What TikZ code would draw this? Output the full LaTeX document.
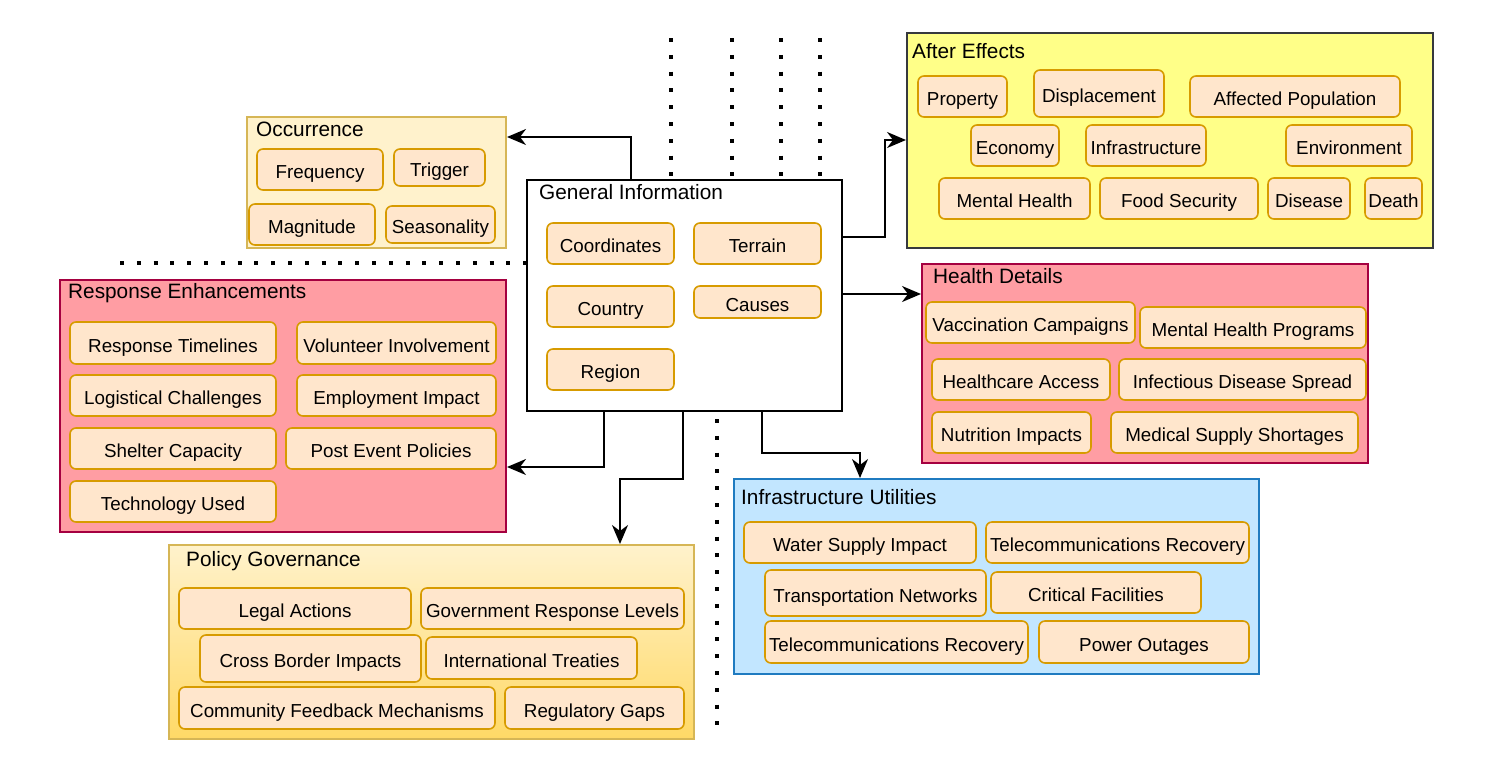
\documentclass[tikz,border=0pt]{standalone}
\usepackage{fontspec}
\setmainfont{Liberation Sans}
\usetikzlibrary{arrows.meta,calc}
\definecolor{itemf}{HTML}{FFE6CC}
\definecolor{itemb}{HTML}{D79B00}
\definecolor{occf}{HTML}{FFF2CC}
\definecolor{occb}{HTML}{D6B656}
\definecolor{pinkf}{HTML}{FF9DA3}
\definecolor{pinkb}{HTML}{A50040}
\definecolor{yelf}{HTML}{FFFF88}
\definecolor{yelb}{HTML}{36393D}
\definecolor{bluef}{HTML}{C2E6FF}
\definecolor{blueb}{HTML}{1F7BC0}
\definecolor{goldb}{HTML}{FFD966}
\newcommand\fs{\fontsize{18.8}{22}\selectfont}
\newcommand\tfs{\fontsize{20.8}{24}\selectfont}
\newcommand\mkbox[7]{\node[#1, minimum width={#5-#3}, minimum height={#6-#4}] (#2) at ({(#3+#5)/2},{(#4+#6)/2}) {#7};}
\tikzset{
  item/.style={draw=itemb, fill=itemf, line width=1.6pt, rounded corners=6pt, inner sep=0pt, font=\fs, text height=18.4pt, text depth=0pt},
  cont/.style={line width=2pt, inner sep=0pt},
  occbox/.style={cont, draw=occb, fill=occf},
  pinkbox/.style={cont, draw=pinkb, fill=pinkf},
  yelbox/.style={cont, draw=yelb, fill=yelf},
  bluebox/.style={cont, draw=blueb, fill=bluef},
  goldbox/.style={cont, draw=occb, top color=occf, bottom color=goldb},
  whitebox/.style={cont, draw=black, fill=white},
  ttl/.style={anchor=west, inner sep=0pt, font=\tfs},
  arr/.style={line width=2pt, -{Stealth[length=19pt,width=16pt,inset=6pt]}},
  dots/.style={line width=4pt, dash pattern=on 4pt off 12.8pt}
}
\begin{document}
\begin{tikzpicture}[x=1pt,y=-1pt]
\useasboundingbox (0,0) rectangle (1488,764);
% dotted lines
\draw[dots] (671,38) -- (671,180);
\draw[dots] (732,38) -- (732,180);
\draw[dots] (781,38) -- (781,180);
\draw[dots] (820,38) -- (820,180);
\draw[dots] (120,263) -- (527,263);
\draw[dots] (717,419) -- (717,728);

% Occurrence
\mkbox{occbox}{occ}{247}{117}{506}{248}{}
\node[ttl] (occt) at (256,129) {Occurrence};
\mkbox{item}{freq}{257}{149}{383}{190}{Frequency}
\mkbox{item}{trig}{394}{149}{485}{186}{Trigger}
\mkbox{item}{magn}{249}{204}{375}{245}{Magnitude}
\mkbox{item}{seas}{386}{206}{495}{243}{Seasonality}

% General Information
\mkbox{whitebox}{gi}{527}{180}{842}{411}{}
\node[ttl] (git) at (539,192) {General Information};
\mkbox{item}{coord}{547}{223}{674}{264}{Coordinates}
\mkbox{item}{terr}{694}{223}{821}{264}{Terrain}
\mkbox{item}{ctry}{547}{286}{674}{327}{Country}
\mkbox{item}{caus}{694}{286}{821}{318}{Causes}
\mkbox{item}{regi}{547}{349}{674}{390}{Region}

% After Effects
\mkbox{yelbox}{ae}{907}{33}{1433}{248}{}
\node[ttl] (aet) at (912,51) {After Effects};
\mkbox{item}{prop}{918}{76}{1007}{117}{Property}
\mkbox{item}{disp}{1034}{70}{1164}{117}{Displacement}
\mkbox{item}{affp}{1190}{76}{1400}{117}{Affected Population}
\mkbox{item}{econ}{971}{125}{1059}{166}{Economy}
\mkbox{item}{infr}{1086}{125}{1206}{166}{Infrastructure}
\mkbox{item}{envi}{1286}{125}{1412}{166}{Environment}
\mkbox{item}{menh}{939}{178}{1090}{219}{Mental Health}
\mkbox{item}{food}{1100}{178}{1258}{219}{Food Security}
\mkbox{item}{dise}{1268}{178}{1350}{219}{Disease}
\mkbox{item}{deat}{1365}{178}{1422}{219}{Death}

% Health Details
\mkbox{pinkbox}{hd}{922}{264}{1368}{463}{}
\node[ttl] (hdt) at (933,276) {Health Details};
\mkbox{item}{vacc}{926}{302}{1135}{343}{Vaccination Campaigns}
\mkbox{item}{mhp}{1140}{307}{1366}{348}{Mental Health Programs}
\mkbox{item}{hca}{932}{359}{1110}{400}{Healthcare Access}
\mkbox{item}{ids}{1119}{359}{1366}{400}{Infectious Disease Spread}
\mkbox{item}{nut}{932}{412}{1091}{453}{Nutrition Impacts}
\mkbox{item}{mss}{1111}{412}{1358}{453}{Medical Supply Shortages}

% Response Enhancements
\mkbox{pinkbox}{re}{60}{280}{506}{532}{}
\node[ttl] (ret) at (68,293) {Response Enhancements};
\mkbox{item}{rtl}{70}{322}{276}{364}{Response Timelines}
\mkbox{item}{vol}{297}{322}{496}{364}{Volunteer Involvement}
\mkbox{item}{log}{70}{375}{276}{416}{Logistical Challenges}
\mkbox{item}{emp}{297}{375}{496}{416}{Employment Impact}
\mkbox{item}{shel}{70}{428}{276}{469}{Shelter Capacity}
\mkbox{item}{pep}{286}{428}{496}{469}{Post Event Policies}
\mkbox{item}{tech}{70}{481}{276}{522}{Technology Used}

% Policy Governance
\mkbox{goldbox}{pg}{169}{545}{694}{739}{}
\node[ttl] (pgt) at (186,561) {Policy Governance};
\mkbox{item}{legal}{179}{588}{411}{629}{Legal Actions}
\mkbox{item}{grl}{421}{588}{684}{629}{Government Response Levels}
\mkbox{item}{cbi}{200}{635}{421}{682}{Cross Border Impacts}
\mkbox{item}{intt}{426}{637}{637}{679}{International Treaties}
\mkbox{item}{cfm}{179}{687}{495}{729}{Community Feedback Mechanisms}
\mkbox{item}{regg}{505}{687}{684}{729}{Regulatory Gaps}

% Infrastructure Utilities
\mkbox{bluebox}{iu}{734}{479}{1259}{674}{}
\node[ttl] (iut) at (741,497) {Infrastructure Utilities};
\mkbox{item}{wsi}{744}{522}{976}{563}{Water Supply Impact}
\mkbox{item}{tr1}{986}{522}{1249}{563}{Telecommunications Recovery}
\mkbox{item}{trn}{765}{570}{986}{616}{Transportation Networks}
\mkbox{item}{crit}{991}{572}{1201}{613}{Critical Facilities}
\mkbox{item}{tr2}{765}{621}{1028}{663}{Telecommunications Recovery}
\mkbox{item}{pow}{1039}{621}{1249}{663}{Power Outages}

% connectors
\draw[arr] ([xshift=105pt]gi.north west) |- ([yshift=-21pt]occ.north east);
\draw[arr] ([yshift=-58pt]gi.north east) -- ++(42,0) |- ([yshift=-108pt]ae.north west);
\draw[arr] ([yshift=-115pt]gi.north east) -- ([yshift=-31pt]hd.north west);
\draw[arr] ([xshift=78pt]gi.south west) |- ([yshift=-188pt]re.north east);
\draw[arr] ([xshift=157pt]gi.south west) -- ++(0,67) -| ([xshift=452pt]pg.north west);
\draw[arr] ([xshift=236pt]gi.south west) -- ++(0,41) -| ([xshift=127pt]iu.north west);
\end{tikzpicture}
\end{document}
